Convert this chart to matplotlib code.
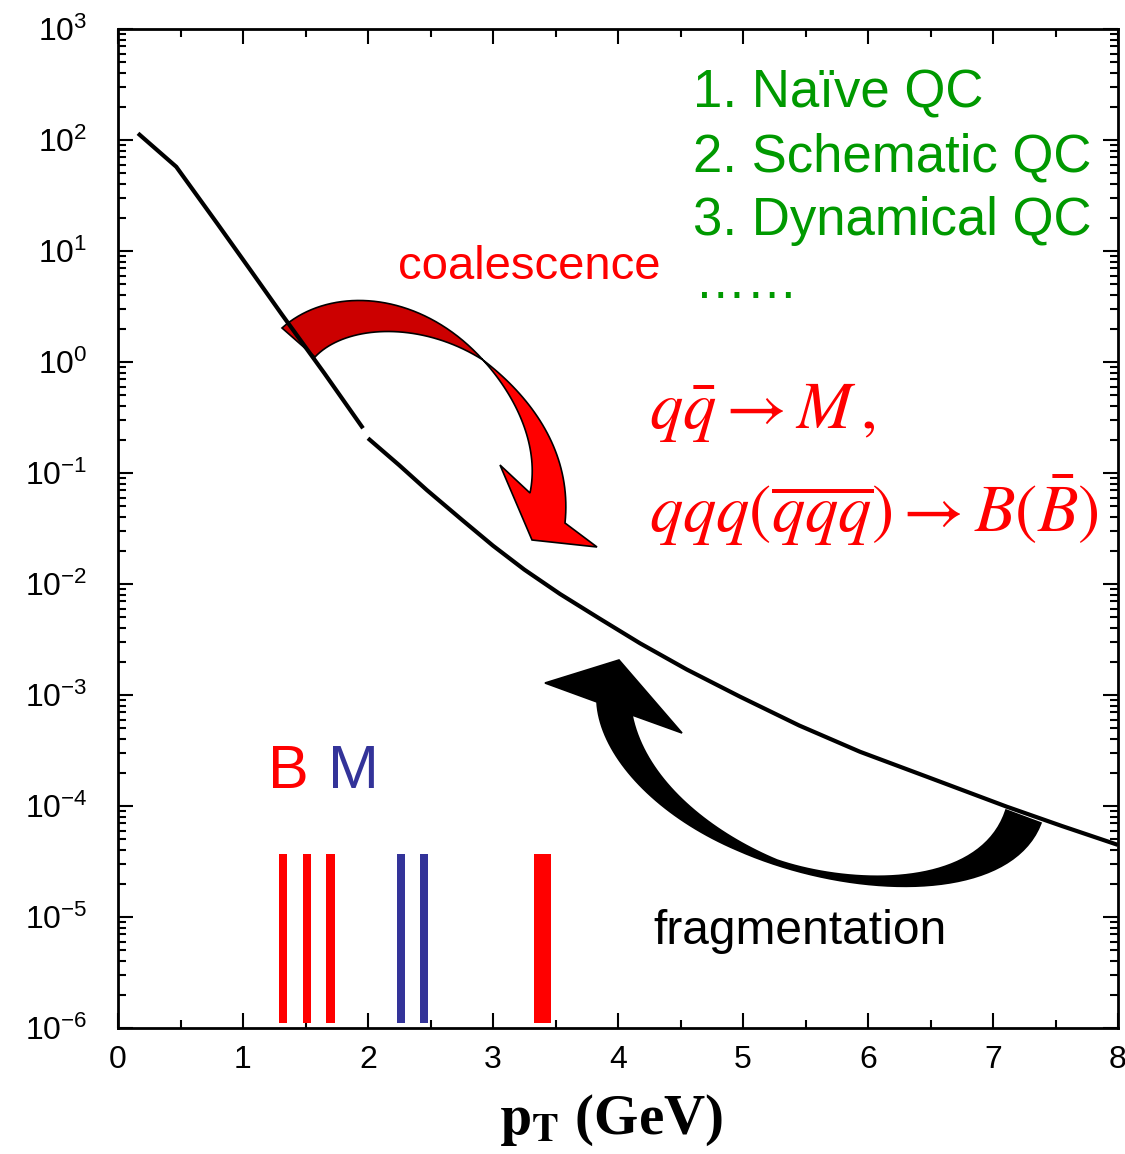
import numpy as np
import matplotlib
matplotlib.use("Agg")
import matplotlib.pyplot as plt
from matplotlib.patches import Polygon
from matplotlib.ticker import MultipleLocator, LogLocator, NullFormatter
from math import comb

plt.rcParams['font.family'] = ['Liberation Sans', 'DejaVu Sans']
plt.rcParams['mathtext.fontset'] = 'custom'
plt.rcParams['mathtext.rm'] = 'Liberation Sans'
plt.rcParams['mathtext.it'] = 'Liberation Sans:italic'
plt.rcParams['mathtext.bf'] = 'Liberation Sans:bold'

# ---------------- data ----------------
pt_low = [0.16, 0.466, 0.8, 1.067, 1.31, 1.65, 1.96]
spec_low = [114.8, 57.4, 17.3, 6.55, 2.69, 0.794, 0.253]
pt_high = [2.0, 2.25, 2.47, 2.75, 3.0, 3.25, 3.536, 3.85, 4.176, 4.55, 4.976,
           5.45, 5.936, 6.47, 7.11, 7.55, 8.0]
spec_high = [0.2056, 0.1175, 0.0703, 0.0380, 0.02213, 0.01349, 0.00813, 0.0049,
             0.002924, 0.001698, 0.000966, 0.000531, 0.000308, 0.0001837,
             9.86e-5, 6.61e-5, 4.46e-5]

baryon_x = [1.32, 1.51, 1.70, 3.395]
baryon_w = [0.065, 0.065, 0.065, 0.13]
meson_x = [2.265, 2.45]
meson_w = [0.065, 0.065]
bar_top = 3.7e-5
bar_bottom = 1.11e-6

qc_models = ["1. Naïve QC", "2. Schematic QC", "3. Dynamical QC"]

RED = '#FF0000'
DARKRED = '#CC0000'
BLUE = '#333399'
GREEN = '#009900'

W, H = 1125, 1154
fig = plt.figure(figsize=(W / 100, H / 100), dpi=100)
ax = fig.add_axes([118 / W, 1 - 1028 / H, 1000 / W, 999 / H])

ax.plot(pt_low, spec_low, color='black', lw=3.0, zorder=5, solid_capstyle='butt')
ax.plot(pt_high, spec_high, color='black', lw=3.0, zorder=5, solid_capstyle='butt')

ax.bar(baryon_x, [bar_top - bar_bottom] * len(baryon_x), bottom=bar_bottom,
       width=baryon_w, color=RED, zorder=4)
ax.bar(meson_x, [bar_top - bar_bottom] * len(meson_x), bottom=bar_bottom,
       width=meson_w, color=BLUE, zorder=4)

ax.set_yscale('log')
ax.set_xlim(0, 8)
ax.set_ylim(1e-6, 1e3)
ax.xaxis.set_major_locator(MultipleLocator(1))
ax.xaxis.set_minor_locator(MultipleLocator(0.5))
ax.yaxis.set_major_locator(LogLocator(base=10, numticks=20))
ax.yaxis.set_minor_locator(LogLocator(base=10, subs=np.arange(2, 10), numticks=20))
ax.yaxis.set_minor_formatter(NullFormatter())
ax.tick_params(which='both', direction='in', top=True, right=True, width=1.5)
ax.tick_params(which='major', length=11)
ax.tick_params(which='minor', length=6)
ax.tick_params(axis='y', which='major', labelsize=23, pad=22)
ax.tick_params(axis='x', which='major', labelsize=23, pad=12)
for s in ax.spines.values():
    s.set_linewidth(2)


def P(px, py):
    return (px / W, 1 - py / H)


fig.text(*P(611, 1120), r"$\mathbf{p}_{\mathbf{T}}$ (GeV)", fontsize=41,
         fontweight='bold', family='Liberation Serif', math_fontfamily='stix',
         ha='center', va='center')


def bez(pts, n=40):
    pts = np.array(pts, float)
    t = np.linspace(0, 1, n)[:, None]
    k = len(pts) - 1
    out = np.zeros((n, 2))
    for i, p in enumerate(pts):
        out += comb(k, i) * (1 - t) ** (k - i) * t ** i * p
    return out


def add_poly(pix, fc):
    pts = np.array([P(x, y) for x, y in pix])
    poly = Polygon(pts, closed=True, facecolor=fc, edgecolor='black', lw=1.2,
                   transform=fig.transFigure, clip_on=False, zorder=3)
    ax.add_patch(poly)


# coalescence arrow (dark back part)
outer = bez([(282, 328), (330, 285), (420, 290), (483, 360)])
inner = bez([(315, 357), (345, 325), (420, 320), (483, 360)])
add_poly(np.vstack([outer, inner[::-1]]), DARKRED)
# coalescence arrow (bright front part with head)
outer2 = bez([(483, 360), (535, 400), (572, 455), (565, 523)])
inner2 = bez([(483, 360), (515, 395), (540, 445), (530, 493)])
head = np.array([(597, 547), (532, 540), (500, 465)])
add_poly(np.vstack([outer2, head, inner2[::-1]]), RED)

# fragmentation arrow (black)
oa = bez([(1041, 823), (1010, 905), (850, 900), (737, 850)])
ob = bez([(737, 850), (655, 815), (600, 755), (597, 702)])
bhead = np.array([(545, 683), (619, 660), (682, 733)])
ic = bez([(632, 715), (645, 780), (710, 832), (777, 860)])
idd = bez([(777, 860), (850, 885), (980, 890), (1006, 810)])
add_poly(np.vstack([oa, ob, bhead, ic, idd]), 'black')

# texts
fig.text(*P(529, 267), "coalescence", color=RED, fontsize=34, ha='center', va='center')
for i, t in enumerate(qc_models):
    fig.text(*P(693, 93 + 64 * i), t, color=GREEN, fontsize=38, ha='left', va='center')
fig.text(*P(695, 284), "\u2026\u2026", color=GREEN, fontsize=37, ha='left', va='center')

fig.text(*P(649, 412), r"$q\bar{q}\rightarrow M\,,$", color=RED, fontsize=48,
         ha='left', va='center', math_fontfamily='stix')
fig.text(*P(649, 510), r"$qqq(\overline{qqq})\rightarrow B(\bar{B})$", color=RED,
         fontsize=48, ha='left', va='center', math_fontfamily='stix')

fig.text(*P(268, 772), "B", color=RED, fontsize=44, ha='left', va='center')
fig.text(*P(328, 772), "M", color=BLUE, fontsize=44, ha='left', va='center')
fig.text(*P(800, 932), "fragmentation", color='black', fontsize=34.5, ha='center', va='center')

fig.savefig("out.png", dpi=100)
